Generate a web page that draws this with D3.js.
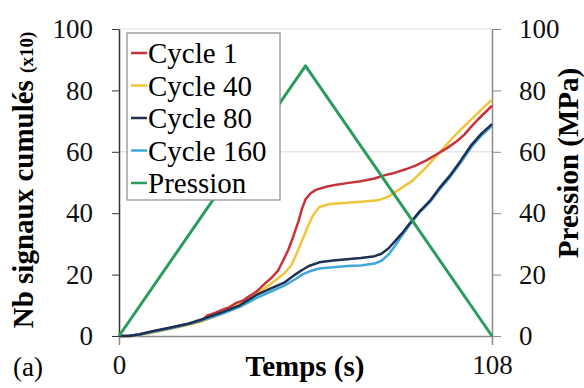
<!DOCTYPE html>
<html>
<head>
<meta charset="utf-8">
<script src="https://cdn.jsdelivr.net/npm/d3@7"></script>
</head>
<body style="margin:0">
<script>
// données : [temps (s), valeur]
const cycle1 = [[0,0],[3,0.1],[6,0.5],[10,1.5],[15,2.7],[20,3.9],[24,5.0],[25.5,6.6],[28,7.6],[30,8.6],[32,9.4],[34,10.8],[36,11.6],[38,13.2],[40,14.6],[42,16.8],[44,18.8],[46,21.2],[47.5,24.5],[49,28],[50.5,32.5],[52,37.5],[53,41.5],[54,44.5],[55.5,46.5],[57,47.6],[60,48.6],[63,49.3],[66,49.8],[70,50.4],[74,51.3],[77,52.4],[80,53.2],[83,54.3],[86,55.6],[89,57.2],[92,59.2],[95,61.2],[98,63.6],[100,65.6],[102,68.2],[104,70.6],[106,72.8],[108,75]];
const cycle40 = [[0,0],[4,0],[8,0.7],[12,1.6],[16,2.6],[20,3.6],[24,4.8],[28,6.4],[32,8.4],[36,11.2],[40,13.8],[44,17],[48,20.5],[50,23.2],[51.5,27],[53,31],[54.5,35.2],[56,39],[58,42],[61,43],[65,43.3],[70,43.7],[75,44.2],[78,45.4],[81,47.6],[85,50.6],[89,55],[93,60],[97,65],[101,69.5],[105,73.8],[108,77]];
const cycle80 = [[0,0],[3,0],[6,0.6],[10,1.6],[15,2.8],[20,4],[25,5.8],[30,7.8],[35,10],[40,13.5],[44,15.5],[48,17.5],[51,20],[53,21.5],[55,22.8],[58,24],[62,24.6],[66,25],[70,25.4],[74,26],[76,26.8],[78,28.5],[80,31],[82,33.5],[84,36.4],[87,40.5],[90,44],[93,48.5],[96,52.5],[99,57.2],[102,62.2],[105,66],[108,69]];
const cycle160 = [[0,0],[3,0.1],[6,0.5],[10,1.4],[15,2.5],[20,3.8],[25,5.4],[30,7.3],[35,9.5],[40,12.5],[44,14.5],[48,16.5],[51,18.5],[53,20],[55,21],[58,22],[62,22.4],[66,22.8],[70,23],[74,23.6],[76,24.5],[78,26.5],[80,29.5],[82,32.8],[84,36],[87,40.2],[90,43.6],[93,48],[96,52],[99,56.6],[102,61.5],[105,65.4],[108,68.5]];
const pression = [[0,0],[54,88],[108,0]];

const seriesNames = ["Cycle 1", "Cycle 40", "Cycle 80", "Cycle 160", "Pression"];
const seriesColors = ["#c8323a", "#f0c53a", "#1f3052", "#3fa7dc", "#2a9d5c"];
const yTicks = [0, 20, 40, 60, 80, 100];
const xTicks = [0, 108];
const gridValues = [60, 100];

const W = 584, H = 388;
const margin = { top: 29, right: 92, bottom: 52, left: 119 };
const police = "Liberation Serif";

const svg = d3.select("body").append("svg")
  .attr("width", W).attr("height", H)
  .attr("font-family", police);

svg.append("style").text("text { font-family: 'Liberation Serif', 'Times New Roman', serif; }");

const x = d3.scaleLinear().domain([0, 108]).range([margin.left, W - margin.right]);
const y = d3.scaleLinear().domain([0, 100]).range([H - margin.bottom, margin.top]);

// grille
svg.append("g").selectAll("line").data(gridValues).enter().append("line")
  .attr("x1", x(0)).attr("x2", x(108))
  .attr("y1", d => y(d)).attr("y2", d => y(d))
  .attr("stroke", "#dcdcdc").attr("stroke-width", 1);

function styleAxis(g, color) {
  g.attr("font-family", police).attr("font-size", 27);
  g.select(".domain").attr("stroke", color).attr("stroke-width", 1.5);
  g.selectAll(".tick line").attr("stroke", color);
  g.selectAll("text").attr("font-family", police).attr("fill", "#111");
}

// axe bas
const gx = svg.append("g").attr("transform", `translate(0,${y(0)})`)
  .call(d3.axisBottom(x).tickValues(xTicks).tickSize(9).tickPadding(10));
styleAxis(gx, "#8a8a8a");

// axe gauche
const gy = svg.append("g").attr("transform", `translate(${x(0)},0)`)
  .call(d3.axisLeft(y).tickValues(yTicks).tickSize(7).tickPadding(19).tickSizeOuter(0));
styleAxis(gy, "#333");

// axe droit
const gy2 = svg.append("g").attr("transform", `translate(${x(108)},0)`)
  .call(d3.axisRight(y).tickValues(yTicks).tickSize(9).tickPadding(18).tickSizeOuter(0));
styleAxis(gy2, "#8a8a8a");

// courbes
const line = d3.line().x(d => x(d[0])).y(d => y(d[1]));
const allSeries = [cycle1, cycle40, cycle80, cycle160, pression];
const drawOrder = [1, 0, 3, 2, 4];
drawOrder.forEach(i => {
  svg.append("path").datum(allSeries[i])
    .attr("d", line)
    .attr("fill", "none")
    .attr("stroke", seriesColors[i])
    .attr("stroke-width", i === 4 ? 3 : 2.5)
    .attr("stroke-linejoin", "round");
});

// légende
const leg = svg.append("g");
leg.append("rect")
  .attr("x", 127).attr("y", 33).attr("width", 153).attr("height", 167)
  .attr("fill", "#fff").attr("stroke", "#8a8a8a").attr("stroke-width", 1.2);
seriesNames.forEach((name, i) => {
  const cy = 53 + i * 32.5;
  leg.append("line")
    .attr("x1", 131).attr("x2", 147).attr("y1", cy).attr("y2", cy)
    .attr("stroke", seriesColors[i]).attr("stroke-width", 2.5);
  leg.append("text")
    .attr("x", 148).attr("y", cy + 10)
    .attr("font-family", police).attr("font-size", 29)
    .text(name);
});

// titres des axes
svg.append("text")
  .attr("x", 305).attr("y", 376)
  .attr("text-anchor", "middle")
  .attr("font-family", police).attr("font-size", 29).attr("font-weight", "bold")
  .text("Temps (s)");

svg.append("text")
  .attr("x", 13).attr("y", 376)
  .attr("font-family", police).attr("font-size", 27)
  .text("(a)");

const yl = svg.append("text")
  .attr("transform", "translate(33,180) rotate(-90)")
  .attr("text-anchor", "middle")
  .attr("font-family", police).attr("font-size", 29).attr("font-weight", "bold");
yl.append("tspan").text("Nb signaux cumulés ");
yl.append("tspan").attr("font-size", 19).text("(x10)");

svg.append("text")
  .attr("transform", "translate(578,163) rotate(-90)")
  .attr("text-anchor", "middle")
  .attr("font-family", police).attr("font-size", 29).attr("font-weight", "bold")
  .text("Pression (MPa)");
</script>
</body>
</html>
